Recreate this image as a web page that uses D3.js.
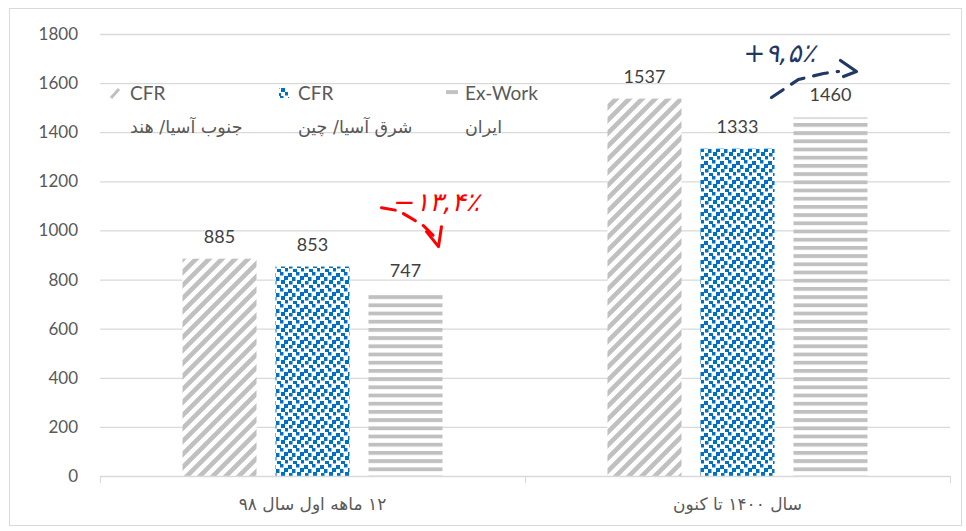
<!DOCTYPE html>
<html><head><meta charset="utf-8">
<script src="https://cdn.jsdelivr.net/npm/d3@7"></script>
<style>body{margin:0;background:#fff}svg{display:block;font-family:Lato,"DejaVu Sans",sans-serif}</style>
</head><body>
<svg id="c" width="966" height="531"></svg>
<script>
const categories = ["۱۲ ماهه اول سال ۹۸", "سال ۱۴۰۰ تا کنون"];
const seriesNames = ["CFR|جنوب آسیا/ هند", "CFR|شرق آسیا/ چین", "Ex-Work|ایران"];
const valuesS1 = [885, 1537];
const valuesS2 = [853, 1333];
const valuesS3 = [747, 1460];
const yTicks = [0, 200, 400, 600, 800, 1000, 1200, 1400, 1600, 1800];
const annotations = ["−۱۳,۴٪", "+۹,۵٪"];

const series = [valuesS1, valuesS2, valuesS3];
const svg = d3.select("#c");
const L = 100, R = 950, T = 34, B = 476;

const defs = svg.append("defs");
// diagonal stripes
const s = 13;
const p1 = defs.append("pattern").attr("id","p1").attr("patternUnits","userSpaceOnUse")
  .attr("width",s).attr("height",s);
p1.append("rect").attr("width",s).attr("height",s).attr("fill","#fff");
p1.append("path").attr("d",`M-4,4 L4,-4 M0,${s} L${s},0 M${s-4},${s+4} L${s+4},${s-4}`).attr("stroke","#c0c0c0").attr("stroke-width",4.6);
// confetti
const p2 = defs.append("pattern").attr("id","p2").attr("patternUnits","userSpaceOnUse")
  .attr("width",16).attr("height",16);
p2.append("rect").attr("width",16).attr("height",16).attr("fill","#fff");
[[0,1,4,4],[8,0,3.5,3.5],[4,5,3.5,4],[12,4,4,4],[1,9,3.5,3.5],[9,8,4,4],[5,13,4,3],[13,12,3,3.5]]
  .forEach(r=>p2.append("rect").attr("x",r[0]).attr("y",r[1]).attr("width",r[2]).attr("height",r[3]).attr("fill","#0070c0"));
// horizontal stripes
const p3 = defs.append("pattern").attr("id","p3").attr("patternUnits","userSpaceOnUse")
  .attr("width",8).attr("height",8.2);
p3.append("rect").attr("width",8).attr("height",8.2).attr("fill","#fff");
p3.append("rect").attr("y",0).attr("width",8).attr("height",3.8).attr("fill","#c0c0c0");
const fills = ["url(#p1)","url(#p2)","url(#p3)"];

// frame
svg.append("rect").attr("x",9.5).attr("y",8.5).attr("width",952).attr("height",517)
  .attr("fill","none").attr("stroke","#d9d9d9");

const x0 = d3.scaleBand().domain(categories).range([L,R]).padding(0);
const x1 = d3.scaleBand().domain([0,1,2]).range([0,x0.bandwidth()]).paddingInner(0.204).paddingOuter(0.887);
const y = d3.scaleLinear().domain([0,1800]).range([B,T]);

// grid
svg.append("g").selectAll("line").data(yTicks.filter(d=>d>0)).join("line")
  .attr("x1",L).attr("x2",R).attr("y1",d=>y(d)+0.5).attr("y2",d=>y(d)+0.5)
  .attr("stroke","#d9d9d9").attr("stroke-width",1.3);
// y labels
svg.append("g").selectAll("text").data(yTicks).join("text")
  .attr("x",78).attr("y",d=>y(d)).attr("dy","0.35em").attr("text-anchor","end")
  .attr("fill","#595959").attr("font-size",17).text(d=>d);

// bars
series.forEach((vals,si)=>{
  const g = svg.append("g");
  g.selectAll("rect").data(vals).join("rect")
    .attr("x",(d,i)=>x0(categories[i])+x1(si)).attr("width",x1.bandwidth())
    .attr("y",d=>y(d)).attr("height",d=>y(0)-y(d)).attr("fill",fills[si]);
  g.selectAll("text").data(vals).join("text")
    .attr("x",(d,i)=>x0(categories[i])+x1(si)+x1.bandwidth()/2).attr("y",d=>y(d)-16)
    .attr("text-anchor","middle").attr("fill","#404040").attr("font-size",18).text(d=>d);
});

// x axis
svg.append("line").attr("x1",L).attr("x2",R).attr("y1",B+0.5).attr("y2",B+0.5).attr("stroke","#d9d9d9").attr("stroke-width",1.3);
[L, x0(categories[1]), R].forEach(xx=>svg.append("line").attr("x1",xx+0.5).attr("x2",xx+0.5).attr("y1",B).attr("y2",B+7).attr("stroke","#d9d9d9"));
svg.append("g").selectAll("text").data(categories).join("text")
  .attr("x",d=>x0(d)+x0.bandwidth()/2).attr("y",B+34).attr("text-anchor","middle")
  .attr("direction","rtl").style("unicode-bidi","embed")
  .attr("fill","#595959").attr("font-size",17).attr("font-family","'DejaVu Sans'").text(d=>d);

// legend
const legX = [130, 298, 465];
seriesNames.forEach((s,i)=>{
  const [a,b] = s.split("|");
  const g = svg.append("g");
  if(i===0) g.append("path").attr("d",`M${legX[i]-19},98 L${legX[i]-11},89`).attr("stroke","#c0c0c0").attr("stroke-width",3);
  if(i===1) g.append("rect").attr("x",legX[i]-19).attr("y",88).attr("width",10).attr("height",10).attr("fill",fills[1]);
  if(i===2) g.append("rect").attr("x",legX[i]-19).attr("y",89).attr("width",12).attr("height",8).attr("fill",fills[2]);
  g.append("text").attr("x",legX[i]).attr("y",100).attr("fill","#595959").attr("font-size",19).text(a);
  g.append("text").attr("x",legX[i]).attr("y",133).attr("fill","#595959").attr("font-size",17.5)
    .attr("direction","rtl").style("unicode-bidi","embed").attr("text-anchor","end")
    .attr("font-family","'DejaVu Sans'").text(b);
});

// annotations (positioned relative to bars)
const bx = (ci,si)=>x0(categories[ci])+x1(si);
const ga = svg.append("g").attr("fill","none");
// red
const r0x = bx(0,2), r0y = y(valuesS1[0]);
svg.append("text").attr("x",r0x+25).attr("y",r0y-48).attr("fill","#ff0000").attr("font-size",26)
  .attr("font-family","'DejaVu Sans'").attr("font-style","italic").text(annotations[0]);
ga.append("path").attr("d",`M${r0x+13},${r0y-51} L${r0x+30},${r0y-48} L${r0x+55},${r0y-33} L${r0x+68},${r0y-20}`)
  .attr("stroke","#ff0000").attr("stroke-width",3).attr("stroke-dasharray","14,9").attr("stroke-linecap","round");
ga.append("path").attr("d",`M${r0x+58},${r0y-27} L${r0x+70},${r0y-12} L${r0x+73},${r0y-32}`)
  .attr("stroke","#ff0000").attr("stroke-width",3).attr("stroke-linecap","round").attr("stroke-linejoin","round");
// blue
const b0x = bx(1,2), b0y = y(valuesS3[1]);
svg.append("text").attr("x",b0x-50).attr("y",b0y-55).attr("fill","#1f3864").attr("font-size",26)
  .attr("font-family","'DejaVu Sans'").attr("font-style","italic").text(annotations[1]);
ga.append("path").attr("d",`M${b0x-22},${b0y-20} L${b0x+5},${b0y-38} L${b0x+30},${b0y-44} L${b0x+45},${b0y-46}`)
  .attr("stroke","#1f3864").attr("stroke-width",3.2).attr("stroke-dasharray","14,10").attr("stroke-linecap","round");
ga.append("path").attr("d",`M${b0x+47},${b0y-57} L${b0x+63},${b0y-46} L${b0x+50},${b0y-41}`)
  .attr("stroke","#1f3864").attr("stroke-width",3.2).attr("stroke-linecap","round").attr("stroke-linejoin","round");
</script>
</body></html>
